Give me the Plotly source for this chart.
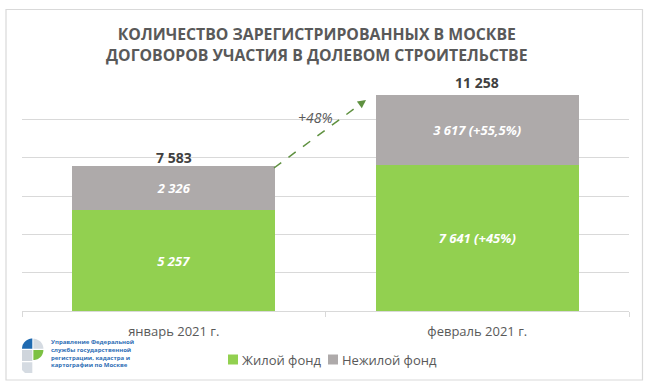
import numpy as np
import plotly.graph_objects as go

# ---- data ----
categories = ["январь 2021 г.", "февраль 2021 г."]
series_names = ["Жилой фонд", "Нежилой фонд"]
residential = [5257, 7641]
nonresidential = [2326, 3617]
residential_labels = ["5 257", "7 641 (+45%)"]
nonresidential_labels = ["2 326", "3 617 (+55,5%)"]
totals = [7583, 11258]
total_labels = ["7 583", "11 258"]
growth_label = "+48%"
title_lines = ["КОЛИЧЕСТВО ЗАРЕГИСТРИРОВАННЫХ В МОСКВЕ",
               "ДОГОВОРОВ УЧАСТИЯ В ДОЛЕВОМ СТРОИТЕЛЬСТВЕ"]
logo_lines = ["Управление Федеральной", "службы государственной",
              "регистрации, кадастра и", "картографии по Москве"]

# ---- layout geometry ----
W, H = 649, 387
ML, MR, MT, MB = 22, 20, 81, 76
PW, PH = W - ML - MR, H - MT - MB

def px(x):
    return (x - ML) / PW

def py(y):
    return (H - MB - y) / PH

GREEN = "#92D050"
GRAY = "#AEAAAA"
TXT = "#595959"
LINE = "#D9D9D9"
FONT = "Open Sans"

fig = go.Figure()
fig.add_trace(go.Bar(
    x=categories, y=residential, name=series_names[0], marker_color=GREEN,
    marker_line_width=0,
    text=residential_labels, textposition="inside", insidetextanchor="middle",
    textfont=dict(color="white", size=13, family=FONT, weight="bold", style="italic"),
    hoverinfo="x+y+name", showlegend=False))
fig.add_trace(go.Bar(
    x=categories, y=nonresidential, name=series_names[1], marker_color=GRAY,
    marker_line_width=0,
    text=nonresidential_labels, textposition="inside", insidetextanchor="middle",
    textfont=dict(color="white", size=13, family=FONT, weight="bold", style="italic"),
    hoverinfo="x+y+name", showlegend=False))

shapes = []
annotations = []

# totals above bars
total_shift = [8, 13]
for c, t, lab, s in zip(categories, totals, total_labels, total_shift):
    annotations.append(dict(x=c, y=t, xref="x", yref="y", text="<b>" + lab + "</b>",
                            showarrow=False, yanchor="middle", yshift=s,
                            font=dict(size=14, color="#404040", family=FONT)))

# title
annotations.append(dict(x=px(317), y=py(44.5), xref="paper", yref="paper",
                        text="<b>" + "<br>".join(title_lines) + "</b>",
                        showarrow=False, xanchor="center", yanchor="middle",
                        font=dict(size=15.8, color=TXT, family=FONT)))

# growth arrow (dashed) between bars
ARROW = "#5F9140"
x_start, y_start = px(274), py(168)
x_tip, y_tip = px(366), py(100)
dxp, dyp = 366 - 274, 100 - 168
L = np.hypot(dxp, dyp)
ux, uy = dxp / L, dyp / L
shapes.append(dict(type="line", xref="paper", yref="paper",
                   x0=x_start, y0=y_start,
                   x1=px(366 - ux * 6), y1=py(100 - uy * 6),
                   line=dict(color=ARROW, width=1.5, dash="dash")))
annotations.append(dict(x=x_tip, y=y_tip, xref="paper", yref="paper",
                        ax=-ux * 8, ay=-uy * 8, axref="pixel", ayref="pixel",
                        showarrow=True, arrowhead=2, arrowsize=1.1, arrowwidth=1.5,
                        arrowcolor=ARROW, text=""))
annotations.append(dict(x=px(315), y=py(117), xref="paper", yref="paper",
                        xanchor="center", yanchor="middle",
                        text="<i>" + growth_label + "</i>", showarrow=False,
                        font=dict(size=14, color=TXT, family=FONT)))

# manual legend
legend_items = [(228, GREEN, series_names[0]), (328, GRAY, series_names[1])]
for x0, col, name in legend_items:
    shapes.append(dict(type="rect", xref="paper", yref="paper",
                       x0=px(x0), x1=px(x0 + 10), y0=py(364.5), y1=py(354.5),
                       fillcolor=col, line=dict(width=0)))
    annotations.append(dict(x=px(x0 + 12), y=py(359.5), xref="paper", yref="paper",
                            text=name, showarrow=False, xanchor="left", yanchor="middle",
                            font=dict(size=13, color=TXT, family=FONT)))

# outer border
shapes.append(dict(type="rect", xref="paper", yref="paper",
                   x0=px(6), x1=px(642.5), y0=py(380), y1=py(9.5),
                   line=dict(color=LINE, width=1.2), fillcolor="rgba(0,0,0,0)",
                   layer="below"))

# logo
def poly(points):
    p = "M" + " L".join(f"{px(a):.5f},{py(b):.5f}" for a, b in points) + " Z"
    return p

def quarter(cx, cy, r, a0, a1):
    ang = np.linspace(np.radians(a0), np.radians(a1), 16)
    pts = [(cx, cy)] + [(cx + r * np.cos(a), cy - r * np.sin(a)) for a in ang]
    return poly(pts)

logo_parts = [
    (quarter(32.3, 348.8, 10.3, 90, 180), "#1F6AB0"),
    (quarter(33.4, 348.8, 10.0, 0, 90), "#D5DBE2"),
    (quarter(33.4, 350.0, 10.0, 270, 360), "#7CC143"),
    (poly([(22, 350.0), (32.3, 350.0), (32.3, 361.0), (22, 361.0)]), "#CFD5DC"),
    (poly([(22, 362.2), (32.3, 362.2), (32.3, 373), (25, 373), (22, 370)]), "#D5DBE2"),
]
for path, col in logo_parts:
    shapes.append(dict(type="path", xref="paper", yref="paper", path=path,
                       fillcolor=col, line=dict(width=0)))
annotations.append(dict(x=px(49), y=py(353.5), xref="paper", yref="paper",
                        text="<b>" + "<br>".join(logo_lines) + "</b>",
                        showarrow=False, xanchor="left", yanchor="middle", align="left",
                        font=dict(size=6, color="#2E6EB5", family=FONT)))

fig.update_layout(
    width=W, height=H,
    margin=dict(l=ML, r=MR, t=MT, b=MB),
    barmode="stack", bargap=0.331,
    plot_bgcolor="white", paper_bgcolor="white",
    showlegend=False,
    shapes=shapes, annotations=annotations,
    xaxis=dict(showline=True, linecolor=LINE, linewidth=1,
               ticks="outside", tickson="boundaries", ticklen=5, tickcolor=LINE,
               tickfont=dict(size=13, color=TXT, family=FONT),
               ticklabelstandoff=8, range=[-0.5, 1.5]),
    yaxis=dict(range=[0, 12000], dtick=2000, showgrid=True, gridcolor=LINE,
               gridwidth=1, showticklabels=False, zeroline=False, showline=False),
)

fig.write_html("out.html", config={"displayModeBar": False},
               post_script="document.body.style.margin='0px';document.body.style.overflow='hidden';")
